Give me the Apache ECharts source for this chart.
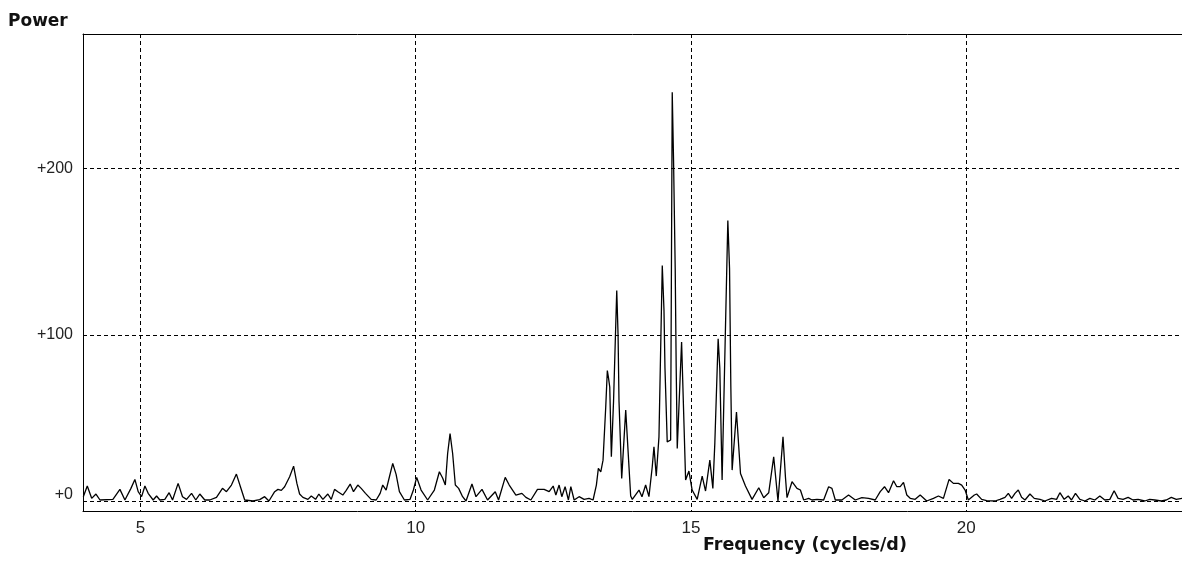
<!DOCTYPE html>
<html>
<head>
<meta charset="utf-8">
<script src="https://cdn.jsdelivr.net/npm/echarts@6/dist/echarts.min.js"></script>
<style>
html,body{margin:0;padding:0;background:#fff;}
#chart{width:1182px;height:562px;}
</style>
</head>
<body>
<div id="chart"></div>
<script>
// periodogram
var freq = [
	3.963,4.035,4.115,4.193,4.266,4.501,4.628,4.719,4.828,4.900,4.960,5.022,5.082,5.141,5.232,5.294,5.354,5.444,5.522,5.584,
	5.685,5.765,5.838,5.929,6.006,6.079,6.170,6.260,6.382,6.491,6.563,6.654,6.744,6.817,6.895,7.045,7.167,7.257,7.335,7.439,
	7.499,7.560,7.620,7.711,7.783,7.843,7.892,7.952,8.043,8.104,8.182,8.242,8.315,8.405,8.467,8.527,8.587,8.677,8.739,8.811,
	8.871,8.949,9.011,9.089,9.192,9.283,9.355,9.402,9.464,9.524,9.584,9.645,9.705,9.796,9.899,9.959,10.019,10.099,10.218,10.340,
	10.431,10.490,10.539,10.581,10.625,10.672,10.721,10.781,10.853,10.915,11.023,11.096,11.205,11.306,11.446,11.506,11.627,11.700,11.821,11.930,
	12.003,12.093,12.213,12.334,12.425,12.498,12.547,12.606,12.655,12.715,12.775,12.819,12.879,12.969,13.060,13.150,13.223,13.283,13.319,13.363,
	13.404,13.453,13.482,13.504,13.526,13.555,13.595,13.653,13.677,13.694,13.743,13.816,13.906,13.936,14.057,14.111,14.178,14.238,14.298,14.329,
	14.371,14.420,14.480,14.511,14.529,14.570,14.632,14.661,14.685,14.715,14.733,14.752,14.831,14.904,14.964,15.023,15.114,15.205,15.266,15.344,
	15.399,15.435,15.495,15.525,15.567,15.671,15.702,15.725,15.749,15.828,15.901,15.991,16.111,16.233,16.323,16.414,16.504,16.582,16.673,16.717,
	16.746,16.837,16.927,16.989,17.049,17.139,17.199,17.290,17.411,17.502,17.562,17.623,17.743,17.864,17.986,18.106,18.227,18.348,18.439,18.517,
	18.590,18.681,18.741,18.802,18.862,18.922,18.984,19.074,19.165,19.284,19.406,19.496,19.587,19.690,19.768,19.859,19.919,19.981,20.040,20.149,
	20.191,20.282,20.372,20.524,20.615,20.706,20.766,20.826,20.887,20.947,21.007,21.069,21.159,21.237,21.341,21.431,21.551,21.642,21.703,21.781,
	21.854,21.914,21.986,22.066,22.157,22.247,22.338,22.428,22.519,22.610,22.688,22.760,22.851,22.942,23.032,23.123,23.244,23.335,23.426,23.546,
	23.636,23.727,23.817,23.921
];
var power = [
	2.6,9,1.6,4.2,0.6,1,7,0.6,7.6,13,5.6,2.6,9,4.6,0.6,3,0.6,1,5,0.6,
	10.6,2.6,1,4.6,0.6,4.2,0.6,0.6,2.2,7.6,5.6,9.6,16.2,8.6,0.6,0,0.8,2.6,0,5.6,
	7,6.4,8.6,14.6,21,10.6,4.2,2.2,1,3,1,4.2,1,4.2,1,7,5.6,3.6,6.4,10.2,
	5.6,9.6,7.6,4.6,1,0.6,4.6,9.6,6.5,14.6,22.6,16,5.6,0.6,1,6.6,14.2,6.6,0.6,6.6,
	17.6,13.8,9.6,28.6,40.6,28.6,9.6,7.6,2.6,0,10.2,2.6,7,0.6,5.6,0.6,14.2,9.6,3.6,4.6,
	2.2,0.6,7,7,5.6,9,3.6,9.6,2.6,8.6,0.6,8.6,0.6,2.6,1,1.6,0.6,9.6,19.6,17.6,
	24.6,56.6,78.5,74,68.6,26.6,60,126.7,100,60,13.6,54.7,3,1,6.6,2.6,9.6,2.6,20.6,32.6,
	15,38.6,141.7,115,80,35.6,36.7,246,205,140,80,31.6,95.7,12.6,18,6.6,1,15,6,24.6,
	7.6,35,97.7,80,12.6,168.8,140,70,18.6,53.6,16.6,9,1,8,2,5,26.6,0,38.6,14.6,
	2,11.6,7.6,6.6,0.6,1.6,0.6,1,0.6,8.6,7.6,0.6,0.6,3.6,0.6,2,1.6,0.6,5.6,8.6,
	5,12.2,8.6,8.6,11.2,3.6,1.6,1,3.6,0,1.6,3,1.6,13,10.6,10.6,9.6,6.6,0.6,3.6,
	4.2,1,0.2,0,1,2.2,4.6,1.6,4.6,6.6,2.2,0.6,4.2,1.6,1,0,1.6,1,5,1,
	3,0.6,4.6,1,0,1.6,0.6,3,0.6,1,6.2,1.6,1,2.2,0.6,1,0,1,0.6,0,
	0.6,2.2,1,1.6
];
var xTicks = [5, 10, 15, 20];
var yTicks = [0, 100, 200];

var points = freq.map(function(f, i){ return [f, power[i]]; });

var dash = {color:'#000', width:1, type:[4,3]};
var frame = {show:true, onZero:false, lineStyle:{color:'#000', width:1}};

var option = {
	animation: false,
	backgroundColor: '#fff',
	title: [
		{text:'Power', left:8, top:13, padding:0, textStyle:{fontFamily:'DejaVu Sans', fontWeight:'bold', fontSize:17, color:'#111'}},
		{text:'Frequency (cycles/d)', left:703, top:536, padding:0, textStyle:{fontFamily:'DejaVu Sans', fontWeight:'bold', fontSize:17.5, color:'#111'}}
	],
	grid: {left:83, right:-2, top:34, bottom:51},
	xAxis: [{
		type:'value', min:3.9574, max:23.921,
		axisLine:frame,
		axisTick:{show:false, customValues:xTicks},
		axisLabel:{customValues:xTicks, margin:9, fontFamily:'Liberation Sans', fontSize:17, color:'#222'},
		splitLine:{show:true, lineStyle:dash}
	}, {
		// top edge of the frame only
		type:'value', position:'top', min:3.9574, max:23.921,
		axisLine:frame, axisTick:{show:false}, axisLabel:{show:false}, splitLine:{show:false}
	}],
	yAxis: {
		type:'value', min:-6.02, max:281.1,
		axisLine:frame,
		axisTick:{show:false, customValues:yTicks},
		axisLabel:{
			customValues:yTicks, margin:10, fontFamily:'Liberation Sans', fontSize:16, color:'#222',
			formatter:function(v){ return v === 0 ? '{z|+0}' : '+' + v; },
			rich:{z:{fontFamily:'Liberation Sans', fontSize:16, color:'#222', padding:[0,0,12,0]}}
		},
		splitLine:{show:true, lineStyle:dash}
	},
	series: [{
		type:'line',
		data:points,
		showSymbol:false,
		smooth:false,
		lineStyle:{color:'#000', width:1.3},
		z:3
	}]
};

var myChart = echarts.init(document.getElementById('chart'));
myChart.setOption(option);
</script>
</body>
</html>
